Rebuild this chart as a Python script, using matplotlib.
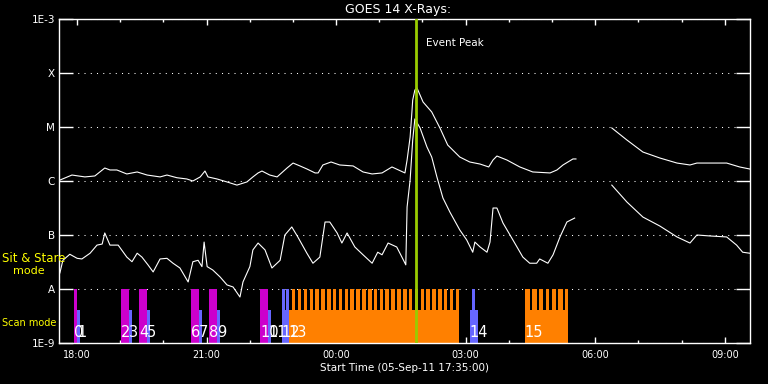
import matplotlib
matplotlib.use("Agg")
import matplotlib.pyplot as plt
import numpy as np
from matplotlib.ticker import FixedLocator, NullLocator

# time axis: hours since start time 05-Sep-11 17:35:00
# long channel (upper curve), W/m^2 ; nan = data gap
t_long = [0.02, 0.30, 0.60, 0.83, 1.06, 1.18, 1.34, 1.57, 1.81, 2.04, 2.34, 2.50,
          2.73, 2.96, 3.10, 3.27, 3.38, 3.45, 3.66, 3.89, 4.12, 4.35, 4.49, 4.61,
          4.70, 4.88, 5.05, 5.28, 5.42, 5.58, 5.74, 5.93, 6.00, 6.11, 6.30, 6.50,
          6.81, 7.04, 7.25, 7.48, 7.71, 8.01, 8.06, 8.13, 8.17, 8.19, 8.24, 8.29,
          8.43, 8.63, 8.82, 9.00, 9.28, 9.51, 9.75, 9.95, 10.05, 10.14, 10.37, 10.67,
          10.97, 11.37, 11.53, 11.67, 11.90, 11.97, 12.40,
          12.80, 13.15, 13.52, 13.91, 14.31, 14.61, 14.77, 15.07, 15.46, 15.76, 15.99]
f_long = [1.04e-6, 1.29e-6, 1.19e-6, 1.24e-6, 1.74e-6, 1.60e-6, 1.60e-6, 1.35e-6, 1.47e-6, 1.29e-6, 1.19e-6, 1.29e-6,
          1.15e-6, 1.09e-6, 1.00e-6, 1.19e-6, 1.53e-6, 1.19e-6, 1.09e-6, 9.6e-7, 8.4e-7, 9.6e-7, 1.19e-6, 1.41e-6,
          1.53e-6, 1.29e-6, 1.19e-6, 1.74e-6, 2.15e-6, 1.90e-6, 1.67e-6, 1.41e-6, 1.41e-6, 1.98e-6, 2.25e-6, 1.98e-6,
          1.90e-6, 1.47e-6, 1.35e-6, 1.41e-6, 1.82e-6, 1.41e-6, 2.45e-6, 6.5e-6, 1.82e-5, 3.16e-5, 4.84e-5, 5.27e-5,
          2.90e-5, 1.90e-5, 9.6e-6, 4.64e-6, 2.78e-6, 2.25e-6, 2.06e-6, 1.82e-6, 2.45e-6, 2.90e-6, 2.45e-6, 1.82e-6,
          1.47e-6, 1.41e-6, 1.60e-6, 1.98e-6, 2.56e-6, 2.56e-6, np.nan,
          9.6e-6, 5.74e-6, 3.44e-6, 2.67e-6, 2.15e-6, 1.98e-6, 2.15e-6, 2.15e-6, 2.15e-6, 1.82e-6, 1.67e-6]

# short channel (lower curve), W/m^2
t_short = [0.02, 0.09, 0.25, 0.42, 0.53, 0.72, 0.88, 1.00, 1.06, 1.18, 1.37, 1.57,
           1.69, 1.81, 1.92, 2.06, 2.18, 2.34, 2.50, 2.64, 2.80, 2.99, 3.10, 3.22,
           3.31, 3.36, 3.43, 3.56, 3.73, 3.89, 4.03, 4.19, 4.26, 4.42, 4.49, 4.61,
           4.77, 4.93, 5.12, 5.23, 5.39, 5.53, 5.74, 5.88, 6.04, 6.16, 6.27, 6.44,
           6.55, 6.67, 6.85, 7.04, 7.25, 7.38, 7.48, 7.62, 7.82, 7.94, 8.03, 8.06,
           8.13, 8.19, 8.24, 8.36, 8.52, 8.63, 8.75, 8.89, 9.05, 9.28, 9.44, 9.58,
           9.63, 9.75, 9.91, 9.98, 10.05, 10.14, 10.28, 10.51, 10.74, 10.90, 11.06, 11.13,
           11.32, 11.44, 11.60, 11.76, 11.94, 12.40,
           12.80, 13.15, 13.52, 13.91, 14.31, 14.61, 14.77, 15.07, 15.46, 15.69, 15.83, 15.99]
f_short = [1.98e-8, 3.4e-8, 4.4e-8, 3.7e-8, 3.6e-8, 4.6e-8, 6.5e-8, 6.8e-8, 1.09e-7, 6.5e-8, 6.5e-8, 3.9e-8,
           3.2e-8, 4.6e-8, 3.9e-8, 2.8e-8, 2.07e-8, 3.6e-8, 3.7e-8, 3.0e-8, 2.45e-8, 1.35e-8, 3.2e-8, 3.4e-8,
           2.6e-8, 7.4e-8, 2.6e-8, 2.25e-8, 1.67e-8, 1.19e-8, 1.09e-8, 7.1e-9, 1.35e-8, 2.6e-8, 5.3e-8, 7.1e-8,
           5.3e-8, 2.45e-8, 3.4e-8, 1.0e-7, 1.41e-7, 9.2e-8, 4.6e-8, 3.0e-8, 3.9e-8, 1.74e-7, 1.74e-7, 1.09e-7,
           7.1e-8, 1.09e-7, 6.0e-8, 4.3e-8, 3.0e-8, 4.8e-8, 4.3e-8, 7.1e-8, 6.0e-8, 3.9e-8, 2.8e-8, 3.3e-7,
           1.04e-6, 5.74e-6, 1.41e-5, 9.6e-6, 4.26e-6, 2.78e-6, 1.19e-6, 4.84e-7, 2.67e-7, 1.24e-7, 8.1e-8, 4.8e-8,
           7.4e-8, 6.0e-8, 4.8e-8, 7.4e-8, 3.16e-7, 3.16e-7, 1.67e-7, 8.1e-8, 3.9e-8, 3.0e-8, 3.0e-8, 3.6e-8,
           3.0e-8, 4.3e-8, 9.2e-8, 1.74e-7, 2.06e-7, np.nan,
           8.4e-7, 4.08e-7, 2.15e-7, 1.47e-7, 9.2e-8, 7.1e-8, 1.0e-7, 9.6e-8, 9.2e-8, 6.5e-8, 4.8e-8, 4.6e-8]

# observation events (hours since start)
ev_labels = [str(i) for i in range(16)]
ev_start = [0.347, 0.417, 1.435, 1.620, 1.852, 2.037, 3.056, 3.241, 3.472, 3.657,
            4.653, 4.838, 5.162, 5.324, 9.514, 10.787]
ev_end = [0.417, 0.486, 1.620, 1.690, 2.037, 2.106, 3.241, 3.310, 3.657, 3.727,
          4.838, 4.907, 5.324, 9.259, 9.699, 11.782]
ev_kind = ["stare", "blue", "stare", "blue", "stare", "blue", "stare", "blue", "stare", "blue",
           "stare", "blue", "blue", "orange", "blue", "orange"]

# full-height raster steps inside the scan events
blue_step_start = [5.162, 5.266, 9.560]
blue_step_end = [5.231, 5.324, 9.630]
orange_step_start = [5.394, 5.530, 5.664, 5.801, 5.935, 6.072, 6.206, 6.343, 6.477, 6.613,
                     6.748, 6.884, 7.019, 7.155, 7.289, 7.426, 7.560, 7.697, 7.831, 7.968,
                     8.102, 8.238, 8.373, 8.509, 8.644, 8.780, 8.914, 9.051, 9.185,
                     10.787, 10.949, 11.111, 11.273, 11.412, 11.551, 11.713]
orange_step_end = [5.475, 5.611, 5.745, 5.882, 6.016, 6.153, 6.287, 6.424, 6.558, 6.694,
                   6.829, 6.965, 7.100, 7.236, 7.370, 7.507, 7.641, 7.778, 7.912, 8.049,
                   8.183, 8.319, 8.454, 8.590, 8.725, 8.861, 8.995, 9.132, 9.259,
                   10.903, 11.065, 11.204, 11.343, 11.505, 11.667, 11.782]

peak_time = 8.264
levels = [1e-9, 1e-8, 1e-7, 1e-6, 1e-5, 1e-4, 1e-3]
level_labels = ["1E-9", "A", "B", "C", "M", "X", "1E-3"]
tick_clock = ["18:00", "21:00", "00:00", "03:00", "06:00", "09:00"]


def hours(clock):
    h, m = map(int, clock.split(":"))
    v = h + m / 60 - (17 + 35 / 60)
    return v + 24 if v < 0 else v


BOTTOM = 1e-9
TOP_FULL = 1e-8
TOP_LOW = 4.1e-9
colors = {"stare": "#cc00cc", "blue": "#6666ff", "orange": "#ff8000"}

fig = plt.figure(figsize=(7.68, 3.84), dpi=100, facecolor="black")
ax = fig.add_axes([59 / 768, 41 / 384, 691 / 768, 324 / 384], facecolor="black")
ax.set_yscale("log")
ax.set_ylim(1e-9, 1e-3)
ax.set_xlim(0, 16)

# event bars
for s, e, k in zip(ev_start, ev_end, ev_kind):
    top = TOP_FULL if k == "stare" else TOP_LOW
    ax.bar(s, top - BOTTOM, width=e - s, bottom=BOTTOM, align="edge",
           color=colors[k], linewidth=0, zorder=2)
ax.bar(blue_step_start, TOP_FULL - BOTTOM, width=np.subtract(blue_step_end, blue_step_start),
       bottom=BOTTOM, align="edge", color=colors["blue"], linewidth=0, zorder=2)
ax.bar(orange_step_start, TOP_FULL - BOTTOM, width=np.subtract(orange_step_end, orange_step_start),
       bottom=BOTTOM, align="edge", color=colors["orange"], linewidth=0, zorder=2)

for s, lab in zip(ev_start, ev_labels):
    ax.text(s, 1.3e-9, lab, color="white", fontsize=10.5, ha="left", va="baseline", zorder=6)

# flux curves
ax.plot(t_long, f_long, color="white", lw=0.8, zorder=3)
ax.plot(t_short, f_short, color="white", lw=0.8, zorder=3)

# event peak
ax.axvline(peak_time, color="#99cc00", lw=2, zorder=5)
ax.text(peak_time + 0.23, 3.6e-4, "Event Peak", color="white", fontsize=7.5,
        ha="left", va="center")

# axes styling
for sp in ax.spines.values():
    sp.set_color("white")
    sp.set_linewidth(1)

ax.yaxis.set_major_locator(FixedLocator(levels))
ax.yaxis.set_minor_locator(NullLocator())
ax.set_yticklabels(level_labels)
ax.tick_params(axis="y", which="major", direction="in", length=10, width=1,
               color="white", labelcolor="white", labelsize=7.5, left=True, right=True, pad=3)
ax.grid(axis="y", color="white", linestyle=(0, (1, 5)), linewidth=0.75, zorder=1)

ax.xaxis.set_major_locator(FixedLocator([hours(c) for c in tick_clock]))
ax.xaxis.set_minor_locator(FixedLocator([hours("18:00") + i for i in range(16)]))
ax.set_xticklabels(tick_clock)
ax.tick_params(axis="x", which="major", direction="in", length=4.5, width=1,
               color="white", labelcolor="white", labelsize=7, top=True, bottom=True, pad=5)
ax.tick_params(axis="x", which="minor", direction="in", length=2.2, width=1,
               color="white", top=True, bottom=True)

fig.text(398 / 768, 1 - 9 / 384, "GOES 14 X-Rays:", color="white", fontsize=9,
         ha="center", va="center")
fig.text(405 / 768, 1 - 368 / 384, "Start Time (05-Sep-11 17:35:00)", color="white",
         fontsize=7.5, ha="center", va="center")
fig.text(2 / 768, 1 - 259 / 384, "Sit & Stare", color="yellow", fontsize=8.5, ha="left", va="center")
fig.text(13 / 768, 1 - 271 / 384, "mode", color="yellow", fontsize=8, ha="left", va="center")
fig.text(2 / 768, 1 - 323 / 384, "Scan mode", color="yellow", fontsize=7, ha="left", va="center")

fig.savefig("out.png", dpi=100, facecolor="black")
